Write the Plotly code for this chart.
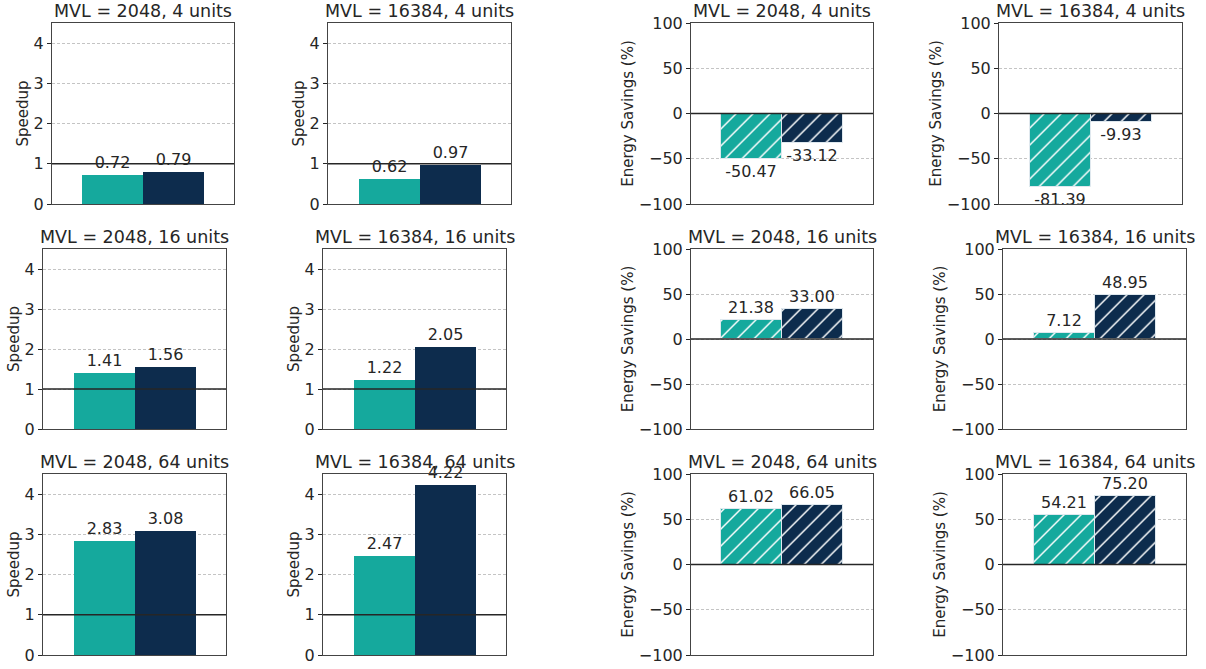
import plotly.graph_objects as go

# ---- data ----
mvl_labels = ["2048", "16384"]
unit_labels = ["4", "16", "64"]
series_names = ["Config A", "Config B"]

# row-major order: (4 units, 2048), (4 units, 16384), (16 units, 2048), ...
speedup_teal = [0.72, 0.62, 1.41, 1.22, 2.83, 2.47]
speedup_navy = [0.79, 0.97, 1.56, 2.05, 3.08, 4.22]
energy_teal = [-50.47, -81.39, 21.38, 7.12, 61.02, 54.21]
energy_navy = [-33.12, -9.93, 33.00, 48.95, 66.05, 75.20]

speedup_ticks = [0, 1, 2, 3, 4]
energy_ticks = [-100, -50, 0, 50, 100]

# ---- style ----
TEAL = "#15a99d"
NAVY = "#0d2c4d"
TXT = "#262626"
FONT = "DejaVu Sans"
W, H = 1206, 669

# pixel boxes (left, right, top, bottom) for each panel [row][col]
boxes = [
    [(52, 234, 23, 204), (328, 511, 23, 204), (691, 873, 23, 204), (999, 1182, 23, 204)],
    [(43, 226, 249, 429), (323, 506, 249, 429), (691, 873, 249, 429), (1003, 1186, 249, 429)],
    [(43, 226, 474, 655), (323, 506, 474, 655), (691, 873, 474, 655), (1003, 1186, 474, 655)],
]

fig = go.Figure()
layout = dict(
    width=W, height=H, margin=dict(l=0, r=0, t=0, b=0, pad=0, autoexpand=False),
    paper_bgcolor="white", plot_bgcolor="white",
    showlegend=False, bargap=0,
    font=dict(family=FONT, color=TXT, size=15),
)
annotations = []
shapes = []

idx = 0
for r in range(3):
    for c in range(4):
        idx += 1
        xa = "x" if idx == 1 else f"x{idx}"
        ya = "y" if idx == 1 else f"y{idx}"
        l, rr, t, b = boxes[r][c]
        panel = r * 2 + (c % 2)
        is_energy = c >= 2
        if is_energy:
            vals = [energy_teal[panel], energy_navy[panel]]
        else:
            vals = [speedup_teal[panel], speedup_navy[panel]]
        marker = dict(color=[TEAL, NAVY])
        if is_energy:
            marker["pattern"] = dict(shape="/", fgcolor="white", fgopacity=1,
                                     size=12, solidity=0.12)
            marker["line"] = dict(color="#dfe8ee", width=1)
        else:
            marker["line"] = dict(width=0)
        fig.add_trace(go.Bar(
            x=series_names, y=vals, width=1.0,
            marker=marker,
            text=[f"{v:.2f}" for v in vals],
            textposition="outside", constraintext="none", cliponaxis=False,
            textfont=dict(family=FONT, size=16, color=TXT),
            xaxis=xa, yaxis=ya, hoverinfo="skip",
        ))
        xkey = "xaxis" if idx == 1 else f"xaxis{idx}"
        ykey = "yaxis" if idx == 1 else f"yaxis{idx}"
        layout[xkey] = dict(
            domain=[l / W, rr / W], anchor=ya, automargin=False,
            range=[-1, 2], showticklabels=False, ticks="",
            showgrid=False, zeroline=False,
            showline=True, mirror=True, linecolor="#444444", linewidth=1,
        )
        ydict = dict(
            domain=[1 - b / H, 1 - t / H], anchor=xa, automargin=False,
            showline=True, mirror=True, linecolor="#444444", linewidth=1,
            ticks="outside", ticklen=4, tickcolor=TXT, tickwidth=1,
            tickfont=dict(family=FONT, size=16, color=TXT),
            showgrid=True, gridcolor="#c4c4c4", gridwidth=0.8, griddash="3px,2px",
            zeroline=False,
            title=dict(font=dict(family=FONT, size=15, color=TXT), standoff=1),
        )
        if is_energy:
            ydict.update(range=[-100, 100], tickvals=energy_ticks,
                         title_text="Energy Savings (%)")
            ref = 0
        else:
            ydict.update(range=[0, 4.5], tickvals=speedup_ticks, title_text="Speedup")
            ref = 1
        layout[ykey] = ydict
        shapes.append(dict(type="line", xref=f"{xa} domain", yref=ya,
                           x0=0, x1=1, y0=ref, y1=ref,
                           line=dict(color=TXT, width=1.5), layer="above"))
        annotations.append(dict(
            text=f"MVL = {mvl_labels[c % 2]}, {unit_labels[r]} units",
            xref=f"{xa} domain", yref=f"{ya} domain", x=0.5, y=1,
            xanchor="center", yanchor="bottom", yshift=0, showarrow=False,
            font=dict(family=FONT, size=17.5, color=TXT),
        ))

layout["annotations"] = annotations
layout["shapes"] = shapes
fig.update_layout(**layout)
fig.write_html("out.html", config={"displayModeBar": False},
               post_script="document.body.style.margin='0px';")
